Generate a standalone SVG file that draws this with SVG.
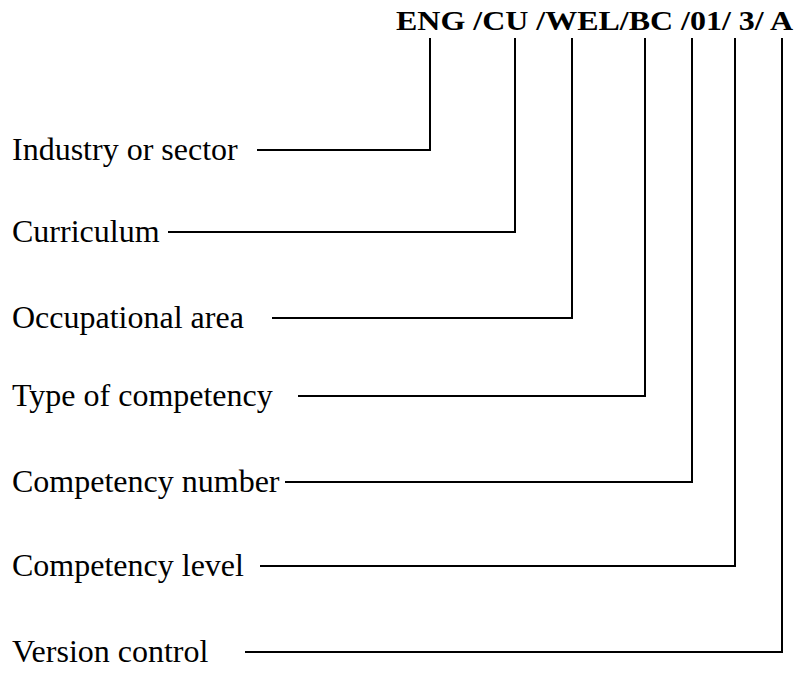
<svg xmlns="http://www.w3.org/2000/svg" width="796" height="675" viewBox="0 0 796 675">
<style>
.t{font-family:"Liberation Serif","Times New Roman",serif;font-size:32px;fill:#000}
.h{font-family:"Liberation Serif","Times New Roman",serif;font-size:28px;font-weight:bold;fill:#000}
.c{fill:none;stroke:#000;stroke-width:2}
</style>
<rect width="796" height="675" fill="#fff"/>
<g id="code"><text class="h" x="396" y="30" textLength="397" lengthAdjust="spacingAndGlyphs">ENG /CU /WEL/BC /01/ 3/ A</text></g>
<g id="n1"><text class="t" x="12" y="160">Industry or sector</text></g>
<g id="n2"><text class="t" x="12" y="242">Curriculum</text></g>
<g id="n3"><text class="t" x="12" y="328">Occupational area</text></g>
<g id="n4"><text class="t" x="12" y="406">Type of competency</text></g>
<g id="n5"><text class="t" x="12" y="492">Competency number</text></g>
<g id="n6"><text class="t" x="12" y="576">Competency level</text></g>
<g id="n7"><text class="t" x="12" y="662">Version control</text></g>
<g id="connectors">
<polyline class="c" points="257,150 430,150 430,38"/>
<polyline class="c" points="168,232 515,232 515,38"/>
<polyline class="c" points="272,318 572,318 572,38"/>
<polyline class="c" points="298,396 645,396 645,38"/>
<polyline class="c" points="285,482 692,482 692,38"/>
<polyline class="c" points="260,566 735,566 735,38"/>
<polyline class="c" points="245,652 782,652 782,38"/>
</g>
</svg>
